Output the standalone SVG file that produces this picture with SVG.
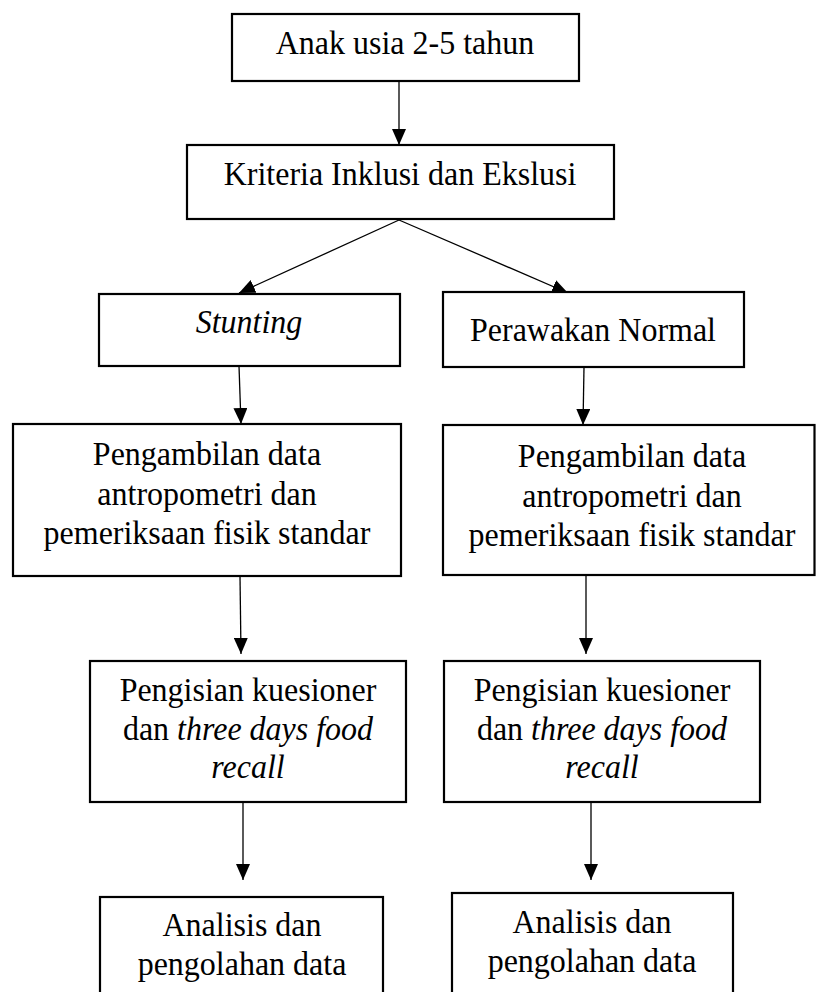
<svg xmlns="http://www.w3.org/2000/svg" width="816" height="992" viewBox="0 0 816 992">
  <style>
    .box { fill: #ffffff; stroke: #000000; stroke-width: 2.2; }
    .conn { stroke: #000000; stroke-width: 1.3; fill: none; marker-end: url(#arrow); }
    .t { font-family: "Liberation Serif", "Times New Roman", serif; font-size: 32px; fill: #000000; text-anchor: middle; }
    .i { font-style: italic; }
  </style>
  <defs>
    <marker id="arrow" markerUnits="userSpaceOnUse" markerWidth="16" markerHeight="14" refX="16" refY="7" orient="auto">
      <path d="M0,0 L16,7 L0,14 z" fill="#000000"/>
    </marker>
  </defs>
  <rect width="816" height="992" fill="#ffffff"/>

  <g id="connectors">
    <line class="conn" x1="399" y1="81" x2="399" y2="145"/>
    <line class="conn" x1="399" y1="220" x2="239" y2="293"/>
    <line class="conn" x1="399" y1="220" x2="568" y2="293"/>
    <line class="conn" x1="239" y1="366" x2="241" y2="424"/>
    <line class="conn" x1="584" y1="367" x2="583" y2="425"/>
    <line class="conn" x1="240" y1="576" x2="241" y2="654"/>
    <line class="conn" x1="586" y1="575" x2="586" y2="654"/>
    <line class="conn" x1="243" y1="802" x2="243" y2="880"/>
    <line class="conn" x1="591" y1="802" x2="591" y2="880"/>
  </g>

  <g id="anak">
    <rect class="box" x="232" y="14" width="347" height="67"/>
    <text class="t" transform="translate(405,54) scale(1,1.07)">Anak usia 2-5 tahun</text>
  </g>

  <g id="kriteria">
    <rect class="box" x="187" y="145" width="427" height="74"/>
    <text class="t" transform="translate(400,185) scale(1,1.07)">Kriteria Inklusi dan Ekslusi</text>
  </g>

  <g id="stunting">
    <rect class="box" x="99" y="294" width="301" height="72"/>
    <text class="t i" transform="translate(249,333) scale(1,1.07)">Stunting</text>
  </g>

  <g id="perawakan">
    <rect class="box" x="443" y="292" width="301" height="75"/>
    <text class="t" transform="translate(593,341) scale(1,1.07)">Perawakan Normal</text>
  </g>

  <g id="pengambilan-kiri">
    <rect class="box" x="13" y="424" width="388" height="152"/>
    <text class="t" transform="translate(207,465) scale(1,1.07)">Pengambilan data</text>
    <text class="t" transform="translate(207,505) scale(1,1.07)">antropometri dan</text>
    <text class="t" transform="translate(207,544) scale(1,1.07)">pemeriksaan fisik standar</text>
  </g>

  <g id="pengambilan-kanan">
    <rect class="box" x="443" y="425" width="371.5" height="150"/>
    <text class="t" transform="translate(632,467) scale(1,1.07)">Pengambilan data</text>
    <text class="t" transform="translate(632,507) scale(1,1.07)">antropometri dan</text>
    <text class="t" transform="translate(632,546) scale(1,1.07)">pemeriksaan fisik standar</text>
  </g>

  <g id="pengisian-kiri">
    <rect class="box" x="90" y="661" width="316" height="141"/>
    <text class="t" transform="translate(248,701) scale(1,1.07)">Pengisian kuesioner</text>
    <text class="t" transform="translate(248,740) scale(1,1.07)">dan <tspan class="i">three days food</tspan></text>
    <text class="t i" transform="translate(248,778) scale(1,1.07)">recall</text>
  </g>

  <g id="pengisian-kanan">
    <rect class="box" x="444" y="661" width="316" height="141"/>
    <text class="t" transform="translate(602,701) scale(1,1.07)">Pengisian kuesioner</text>
    <text class="t" transform="translate(602,740) scale(1,1.07)">dan <tspan class="i">three days food</tspan></text>
    <text class="t i" transform="translate(602,778) scale(1,1.07)">recall</text>
  </g>

  <g id="analisis-kiri">
    <rect class="box" x="100" y="897" width="283" height="110"/>
    <text class="t" transform="translate(242,936) scale(1,1.07)">Analisis dan</text>
    <text class="t" transform="translate(242,975) scale(1,1.07)">pengolahan data</text>
  </g>

  <g id="analisis-kanan">
    <rect class="box" x="452" y="893" width="281" height="114"/>
    <text class="t" transform="translate(592,933) scale(1,1.07)">Analisis dan</text>
    <text class="t" transform="translate(592,972) scale(1,1.07)">pengolahan data</text>
  </g>
</svg>
